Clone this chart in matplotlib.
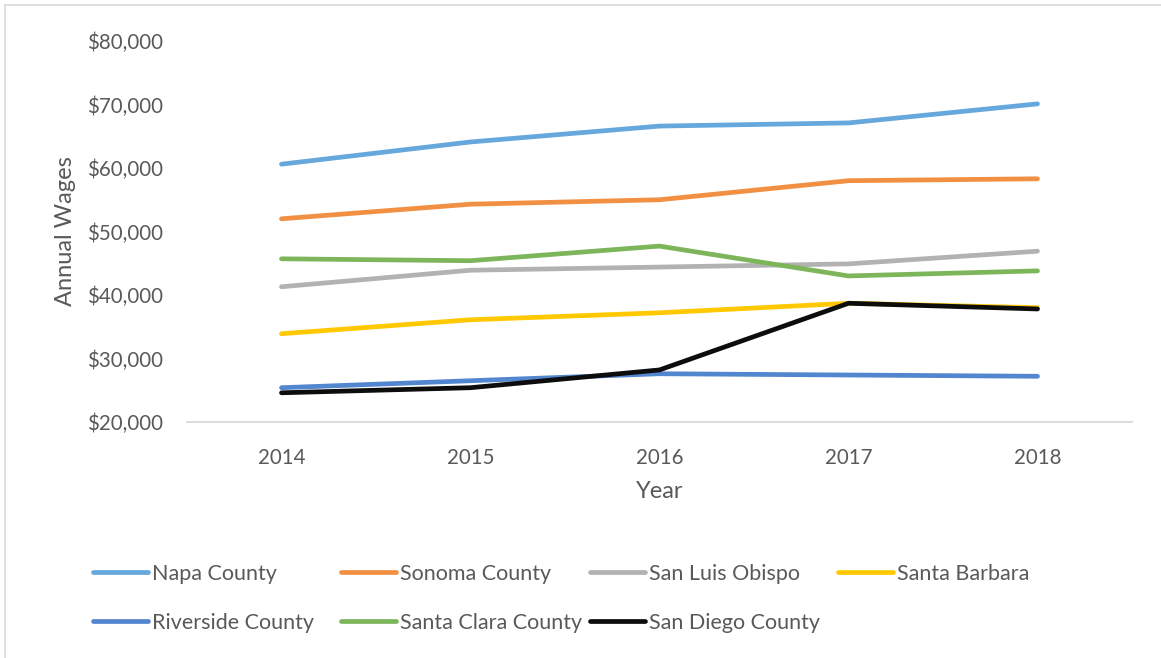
import matplotlib
matplotlib.use("Agg")
import matplotlib.pyplot as plt
from matplotlib.lines import Line2D
from matplotlib.ticker import FuncFormatter

years = ["2014", "2015", "2016", "2017", "2018"]
napa = [60600, 64100, 66600, 67100, 70100]
sonoma = [52000, 54300, 55000, 58000, 58300]
san_luis_obispo = [41300, 43900, 44400, 44900, 46900]
santa_barbara = [33900, 36100, 37200, 38700, 38000]
riverside = [25400, 26500, 27600, 27400, 27200]
santa_clara = [45700, 45400, 47700, 43000, 43800]
san_diego = [24600, 25400, 28200, 38700, 37800]

series = [
    ("Napa County", napa, "#66A7DC"),
    ("Sonoma County", sonoma, "#F18F43"),
    ("San Luis Obispo", san_luis_obispo, "#B2B2B2"),
    ("Santa Barbara", santa_barbara, "#FFC800"),
    ("Riverside County", riverside, "#5286CE"),
    ("Santa Clara County", santa_clara, "#7DB65A"),
    ("San Diego County", san_diego, "#0D0D0D"),
]

plt.rcParams['font.family'] = ['Lato', 'DejaVu Sans']
txt = "#595959"

W, H = 1161, 658
fig = plt.figure(figsize=(W / 100, H / 100), dpi=100)
ax = fig.add_axes([187 / W, 1 - 422 / H, (1132 - 187) / W, (422 - 41) / H])

x = list(range(len(years)))
handles = {}
for name, vals, col in series:
    ln, = ax.plot(x, vals, color=col, lw=3.4, solid_capstyle='round',
                  solid_joinstyle='round', label=name)
    handles[name] = ln

ax.set_xlim(-0.5, 4.5)
ax.set_ylim(20000, 80000)
ax.set_yticks(range(20000, 80001, 10000))
ax.yaxis.set_major_formatter(FuncFormatter(lambda v, p: f"${v:,.0f}"))
ax.set_xticks(x)
ax.set_xticklabels(years)
for s in ["top", "right", "left"]:
    ax.spines[s].set_visible(False)
ax.spines["bottom"].set_color("#D9D9D9")
ax.spines["bottom"].set_linewidth(1.3)
ax.tick_params(axis='both', length=0, labelsize=14.8, colors=txt)
ax.tick_params(axis='y', pad=17)
ax.tick_params(axis='x', pad=19)
ax.set_ylabel("Annual Wages", fontsize=17, color=txt, labelpad=8)
ax.set_xlabel("Year", fontsize=17, color=txt, labelpad=9)

# legend columns (equal widths as in the original)
cols = [
    (["Napa County", "Riverside County"], 93),
    (["Sonoma County", "Santa Clara County"], 341),
    (["San Luis Obispo", "San Diego County"], 590),
    (["Santa Barbara"], 838),
]
for names, xpx in cols:
    leg = fig.legend([handles[n] for n in names], names, loc='upper left',
                     bbox_to_anchor=(xpx / W, 1 - 564 / H), frameon=False,
                     fontsize=15.5, handlelength=2.55, handletextpad=0.18,
                     labelspacing=1.34, borderpad=0, borderaxespad=0)
    for t in leg.get_texts():
        t.set_color(txt)

# outer chart border (top/left visible)
fig.add_artist(Line2D([5 / W, 1], [1 - 5 / H, 1 - 5 / H], color="#D9D9D9", lw=1.2))
fig.add_artist(Line2D([5 / W, 5 / W], [0, 1 - 5 / H], color="#D9D9D9", lw=1.2))

fig.savefig("out.png", dpi=100)
